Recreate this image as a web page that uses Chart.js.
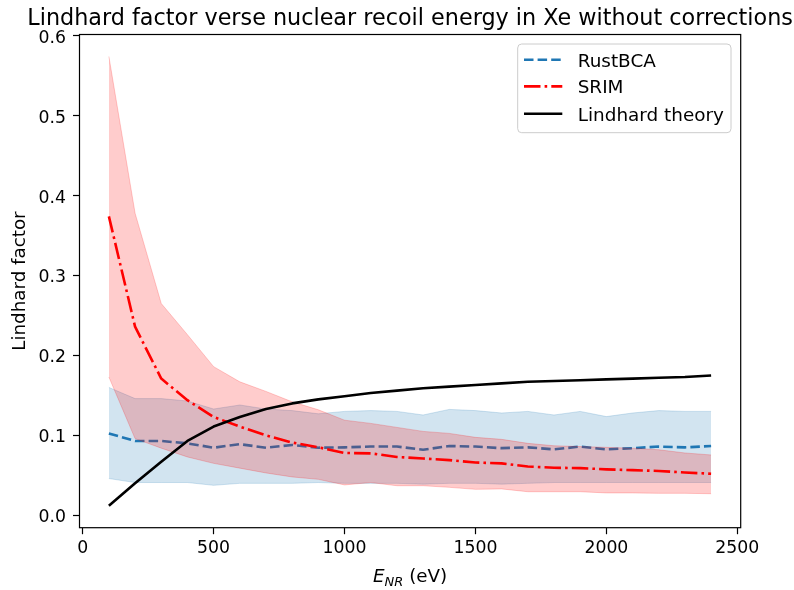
<!DOCTYPE html>
<html>
<head>
<meta charset="utf-8">
<script src="https://cdn.jsdelivr.net/npm/chart.js@4.4.0/dist/chart.umd.min.js"></script>
<style>
  html, body { margin: 0; padding: 0; background: #ffffff; }
  #wrap { width: 794px; height: 590px; }
</style>
</head>
<body>
<div id="wrap"><canvas id="c" width="794" height="590"></canvas></div>
<script>
// ---------------- data ----------------
const energies = [100, 200, 300, 400, 500, 600, 700, 800, 900, 1000, 1100, 1200,
                  1300, 1400, 1500, 1600, 1700, 1800, 1900, 2000, 2100, 2200, 2300, 2400];

const rustMean  = [0.1025, 0.093, 0.093, 0.090, 0.0846, 0.089, 0.0846, 0.088, 0.0846, 0.085, 0.086, 0.086,
                   0.082, 0.0867, 0.086, 0.084, 0.085, 0.0825, 0.086, 0.0825, 0.084, 0.086, 0.085, 0.0867];
const rustUpper = [0.160, 0.146, 0.146, 0.143, 0.133, 0.138, 0.133, 0.131, 0.127, 0.130, 0.131, 0.130,
                   0.1255, 0.1325, 0.131, 0.128, 0.130, 0.1255, 0.130, 0.1235, 0.128, 0.131, 0.130, 0.130];
const rustLower = [0.046, 0.041, 0.041, 0.041, 0.0375, 0.040, 0.040, 0.040, 0.041, 0.040, 0.040, 0.040,
                   0.039, 0.040, 0.040, 0.039, 0.040, 0.041, 0.041, 0.041, 0.041, 0.041, 0.041, 0.041];

const srimMean  = [0.374, 0.236, 0.171, 0.144, 0.123, 0.111, 0.100, 0.091, 0.085, 0.078, 0.0775, 0.073,
                   0.071, 0.069, 0.066, 0.065, 0.061, 0.0595, 0.059, 0.0575, 0.0565, 0.0555, 0.0535, 0.052];
const srimUpper = [0.574, 0.378, 0.265, 0.226, 0.186, 0.167, 0.155, 0.142, 0.132, 0.119, 0.115, 0.110,
                   0.105, 0.1025, 0.0975, 0.095, 0.090, 0.087, 0.086, 0.085, 0.084, 0.082, 0.078, 0.0755];
const srimLower = [0.173, 0.096, 0.084, 0.073, 0.065, 0.059, 0.053, 0.048, 0.045, 0.038, 0.041, 0.037,
                   0.037, 0.035, 0.0325, 0.033, 0.0295, 0.0295, 0.0295, 0.028, 0.028, 0.0275, 0.0275, 0.027];

const lindhard  = [0.012, 0.040, 0.067, 0.093, 0.111, 0.123, 0.133, 0.140, 0.145, 0.149, 0.153, 0.156,
                   0.159, 0.161, 0.163, 0.165, 0.167, 0.168, 0.169, 0.170, 0.171, 0.172, 0.173, 0.175];

const xTickValues = [0, 500, 1000, 1500, 2000, 2500];
const xTickLabels = ['0', '500', '1000', '1500', '2000', '2500'];
const yTickValues = [0.0, 0.1, 0.2, 0.3, 0.4, 0.5, 0.6];
const yTickLabels = ['0.0', '0.1', '0.2', '0.3', '0.4', '0.5', '0.6'];

const seriesNames = ['RustBCA', 'SRIM', 'Lindhard theory'];
const titleText = 'Lindhard factor verse nuclear recoil energy in Xe without corrections';
const yLabelText = 'Lindhard factor';

// ---------------- styles ----------------
const FONT = '"DejaVu Sans", "Liberation Sans", sans-serif';
const BLUE = '#1f77b4';
const RED = '#ff0000';
const LW = 2.6;
const DASH_BLUE = [9.5, 4.1];
const DASH_RED = [16.5, 4.1, 2.6, 4.1];
const LABEL_SIZE = 18.3;

const pts = (arr) => energies.map((e, i) => ({ x: e, y: arr[i] }));

const baseLine = { pointRadius: 0, pointHoverRadius: 0, tension: 0, borderCapStyle: 'butt', borderJoinStyle: 'round' };

const datasets = [
  Object.assign({}, baseLine, { label: seriesNames[2], data: pts(lindhard), borderColor: '#000000', borderWidth: LW, fill: false }),
  Object.assign({}, baseLine, { label: seriesNames[1], data: pts(srimMean), borderColor: RED, borderWidth: LW, borderDash: DASH_RED, fill: false }),
  Object.assign({}, baseLine, { label: 'srimUpper', data: pts(srimUpper), borderColor: 'rgba(255,0,0,0.2)', borderWidth: 1, fill: '+1', backgroundColor: 'rgba(255,0,0,0.2)' }),
  Object.assign({}, baseLine, { label: 'srimLower', data: pts(srimLower), borderColor: 'rgba(255,0,0,0.2)', borderWidth: 1, fill: false }),
  Object.assign({}, baseLine, { label: seriesNames[0], data: pts(rustMean), borderColor: BLUE, borderWidth: LW, borderDash: DASH_BLUE, fill: false }),
  Object.assign({}, baseLine, { label: 'rustUpper', data: pts(rustUpper), borderColor: 'rgba(31,119,180,0.2)', borderWidth: 1, fill: '+1', backgroundColor: 'rgba(31,119,180,0.2)' }),
  Object.assign({}, baseLine, { label: 'rustLower', data: pts(rustLower), borderColor: 'rgba(31,119,180,0.2)', borderWidth: 1, fill: false })
];

// ---------------- decorations plugin ----------------
const decor = {
  id: 'decor',
  afterDraw(chart) {
    const ctx = chart.ctx;
    const a = chart.chartArea;
    ctx.save();
    // frame
    ctx.strokeStyle = '#000';
    ctx.lineWidth = 1.2;
    ctx.strokeRect(a.left, a.top, a.right - a.left, a.bottom - a.top);

    // title
    const cx = (a.left + a.right) / 2;
    ctx.fillStyle = '#000';
    ctx.font = '22.3px ' + FONT;
    ctx.textAlign = 'center';
    ctx.textBaseline = 'alphabetic';
    ctx.fillText(titleText, cx, 25);

    // y label
    ctx.save();
    ctx.translate(25, (a.top + a.bottom) / 2);
    ctx.rotate(-Math.PI / 2);
    ctx.font = LABEL_SIZE + 'px ' + FONT;
    ctx.textAlign = 'center';
    ctx.fillText(yLabelText, 0, 0);
    ctx.restore();

    // x label: E_NR (eV)
    const fMain = 'italic ' + LABEL_SIZE + 'px ' + FONT;
    const fSub = 'italic 13px ' + FONT;
    const fReg = LABEL_SIZE + 'px ' + FONT;
    ctx.textAlign = 'left';
    ctx.font = fMain; const wE = ctx.measureText('E').width;
    ctx.font = fSub; const wS = ctx.measureText('NR').width;
    ctx.font = fReg; const wR = ctx.measureText(' (eV)').width;
    let x0 = cx - (wE + wS + wR) / 2;
    const by = 582.3;
    ctx.font = fMain; ctx.fillText('E', x0, by); x0 += wE;
    ctx.font = fSub; ctx.fillText('NR', x0, by + 3.9); x0 += wS;
    ctx.font = fReg; ctx.fillText(' (eV)', x0, by);

    // legend
    const lx = 517.7, ly = 44, lw = 213.3, lh = 88.7, r = 4;
    ctx.beginPath();
    ctx.moveTo(lx + r, ly);
    ctx.lineTo(lx + lw - r, ly); ctx.quadraticCurveTo(lx + lw, ly, lx + lw, ly + r);
    ctx.lineTo(lx + lw, ly + lh - r); ctx.quadraticCurveTo(lx + lw, ly + lh, lx + lw - r, ly + lh);
    ctx.lineTo(lx + r, ly + lh); ctx.quadraticCurveTo(lx, ly + lh, lx, ly + lh - r);
    ctx.lineTo(lx, ly + r); ctx.quadraticCurveTo(lx, ly, lx + r, ly);
    ctx.closePath();
    ctx.fillStyle = 'rgba(255,255,255,0.8)';
    ctx.fill();
    ctx.strokeStyle = '#cccccc';
    ctx.lineWidth = 1;
    ctx.stroke();

    const entries = [
      { name: seriesNames[0], color: BLUE, dash: DASH_BLUE, base: 66.7 },
      { name: seriesNames[1], color: RED, dash: DASH_RED, base: 93.3 },
      { name: seriesNames[2], color: '#000', dash: [], base: 120.7 }
    ];
    entries.forEach(e => {
      const yy = e.base - 6.9;
      ctx.beginPath();
      ctx.setLineDash(e.dash);
      ctx.lineCap = 'butt';
      ctx.strokeStyle = e.color;
      ctx.lineWidth = LW;
      ctx.moveTo(524, yy);
      ctx.lineTo(562.3, yy);
      ctx.stroke();
      ctx.setLineDash([]);
      ctx.fillStyle = '#000';
      ctx.font = '18.4px ' + FONT;
      ctx.textAlign = 'left';
      ctx.textBaseline = 'alphabetic';
      ctx.fillText(e.name, 577.7, e.base);
    });
    ctx.restore();
  }
};

const tickFont = { family: FONT, size: 17.3 };

new Chart(document.getElementById('c'), {
  type: 'line',
  data: { datasets },
  options: {
    responsive: false,
    animation: false,
    devicePixelRatio: 1,
    events: [],
    layout: { padding: { left: 0, top: 34.5, right: 53.3, bottom: 0 } },
    plugins: { legend: { display: false }, title: { display: false }, tooltip: { enabled: false } },
    scales: {
      x: {
        type: 'linear',
        min: -12.2,
        max: 2513,
        afterFit(scale) { scale.height = 62.3; },
        afterBuildTicks(scale) { scale.ticks = xTickValues.map(v => ({ value: v })); },
        border: { display: false },
        grid: { display: true, drawOnChartArea: false, drawTicks: true, tickLength: 6.5, tickWidth: 1.2, tickColor: '#000' },
        ticks: {
          autoSkip: false, maxRotation: 0, minRotation: 0, padding: 4, color: '#000', font: tickFont,
          callback: (v, i) => xTickLabels[i]
        }
      },
      y: {
        type: 'linear',
        min: -0.0155,
        max: 0.6015,
        afterFit(scale) { scale.width = 79.5; },
        afterBuildTicks(scale) { scale.ticks = yTickValues.map(v => ({ value: v })); },
        border: { display: false },
        grid: { display: true, drawOnChartArea: false, drawTicks: true, tickLength: 6.5, tickWidth: 1.2, tickColor: '#000' },
        ticks: {
          autoSkip: false, padding: 7, labelOffset: 2.5, color: '#000', font: tickFont,
          callback: (v, i) => yTickLabels[i]
        }
      }
    }
  },
  plugins: [decor]
});
</script>
</body>
</html>
